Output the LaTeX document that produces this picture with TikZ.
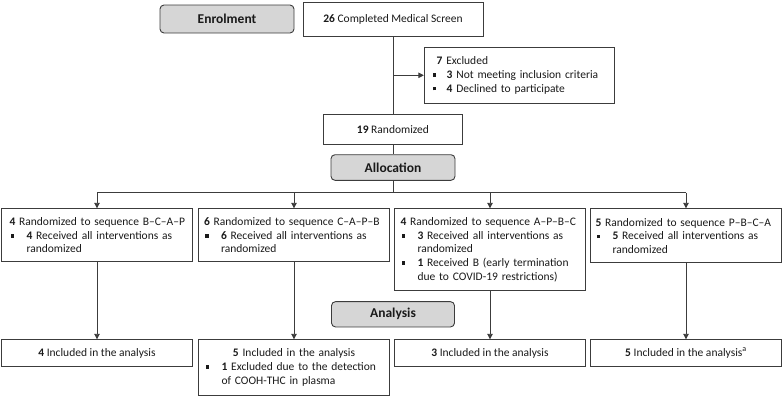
\documentclass[tikz,border=0pt]{standalone}
\usepackage{fontspec}
\setmainfont{Carlito}
\usetikzlibrary{arrows.meta}
\definecolor{linec}{HTML}{3C3C3C}
\definecolor{textc}{HTML}{1A1A1A}
\definecolor{headfill}{HTML}{D6D6D6}
% bullet: #1 indent of following text, #2 offset of the bullet
\newcommand{\bul}[2]{\hspace*{#2}\makebox[\dimexpr#1-#2\relax][l]{\raisebox{1.7pt}{\rule{3.5pt}{3.5pt}}}}
\tikzset{
  box/.style={draw=linec, line width=0.9pt, fill=white, inner ysep=0pt, text=textc,
    font=\fontsize{11.5}{13.7}\selectfont},
  head/.style={draw=linec, line width=0.9pt, fill=headfill, rounded corners=4pt,
    text=textc, inner sep=0pt, font=\fontsize{13.5}{15}\selectfont\bfseries},
  conn/.style={draw=linec, line width=0.9pt},
  arr/.style={conn, -{Triangle[length=5.5pt,width=5.5pt]}},
}
\begin{document}
\begin{tikzpicture}[x=1pt,y=-1pt]
\useasboundingbox (0,0) rectangle (784,402);
% header blocks
\node[head, minimum width=134, minimum height=28] (enrol) at (227,19) {Enrolment};
\node[head, minimum width=124, minimum height=25.6] (alloc) at (393,167.5) {Allocation};
\node[head, minimum width=123, minimum height=25.3] (anal) at (393,314.3) {Analysis};
% enrolment
\node[box, minimum width=180, minimum height=33.3] (screen) at (393,19.3) {\textbf{26} Completed Medical Screen};
\node[box, minimum width=139.4, minimum height=29.7] (rand) at (393,129.2) {\textbf{19} Randomized};
\node[box, inner xsep=12.4, text width=165, align=left, minimum height=56] (excl) at (519.2,75.3)
  {\textbf{7} Excluded\\\mbox{\bul{10pt}{-4pt}\textbf{3} Not meeting inclusion criteria}\\\mbox{\bul{10pt}{-4pt}\textbf{4} Declined to participate}};
% allocation boxes
\node[box, anchor=north, inner xsep=8, text width=175, align=left, minimum height=53] (b1) at (97,208.3)
  {\mbox{\textbf{4} Randomized to sequence B–C–A–P}\\\mbox{\bul{17pt}{1pt}\textbf{4} Received all interventions as}\\\hspace*{17pt}randomized};
\node[box, anchor=north, inner xsep=5.5, text width=180, align=left, minimum height=53] (b2) at (294,208.3)
  {\mbox{\textbf{6} Randomized to sequence C–A–P–B}\\\mbox{\bul{17pt}{1pt}\textbf{6} Received all interventions as}\\\hspace*{17pt}randomized};
\node[box, anchor=north, inner xsep=6, text width=179, align=left, minimum height=82] (b3) at (490,208.3)
  {\mbox{\textbf{4} Randomized to sequence A–P–B–C}\\\mbox{\bul{17pt}{1pt}\textbf{3} Received all interventions as}\\\hspace*{17pt}randomized\\\mbox{\bul{17pt}{1pt}\textbf{1} Received B (early termination}\\\hspace*{17pt}\mbox{due to COVID-19 restrictions)}};
\node[box, anchor=north, inner xsep=5, text width=181, align=left, minimum height=54] (b4) at (686,208.3)
  {\mbox{\textbf{5} Randomized to sequence P–B–C–A}\\\mbox{\bul{17pt}{1pt}\textbf{5} Received all interventions as}\\\hspace*{17pt}randomized};
% analysis boxes
\node[box, anchor=north, minimum width=191, minimum height=26.7] (c1) at (97,339.3) {\textbf{4} Included in the analysis};
\node[box, anchor=north, inner xsep=5.5, text width=180, align=left, minimum height=55.7] (c2) at (294,339.3)
  {\makebox[180pt][c]{\textbf{5} Included in the analysis}\\\mbox{\bul{17.5pt}{1.5pt}\textbf{1} Excluded due to the detection}\\\hspace*{17.5pt}\mbox{of COOH-THC in plasma}};
\node[box, anchor=north, minimum width=191, minimum height=26.7] (c3) at (490,339.3) {\textbf{3} Included in the analysis};
\node[box, anchor=north, minimum width=191, minimum height=26.7] (c4) at (686,339.3) {\textbf{5} Included in the analysis\textsuperscript{a}};
% connectors
\draw[conn] (screen.south) -- (rand.north);
\draw[arr] (screen.south |- excl.west) -- (excl.west);
\draw[conn] (rand.south) -- (alloc.north);
\coordinate (split) at (393,192.7);
\draw[conn] (alloc.south) -- (split);
\draw[conn] (b1.north |- split) -- (b4.north |- split);
\foreach \b in {b1,b2,b3,b4} {\draw[arr] (\b.north |- split) -- (\b.north);}
\draw[arr] (b1.south) -- (c1.north);
\draw[arr] (b2.south) -- (c2.north);
\draw[arr] (b3.south) -- (c3.north);
\draw[arr] (b4.south) -- (c4.north);
\end{tikzpicture}
\end{document}
